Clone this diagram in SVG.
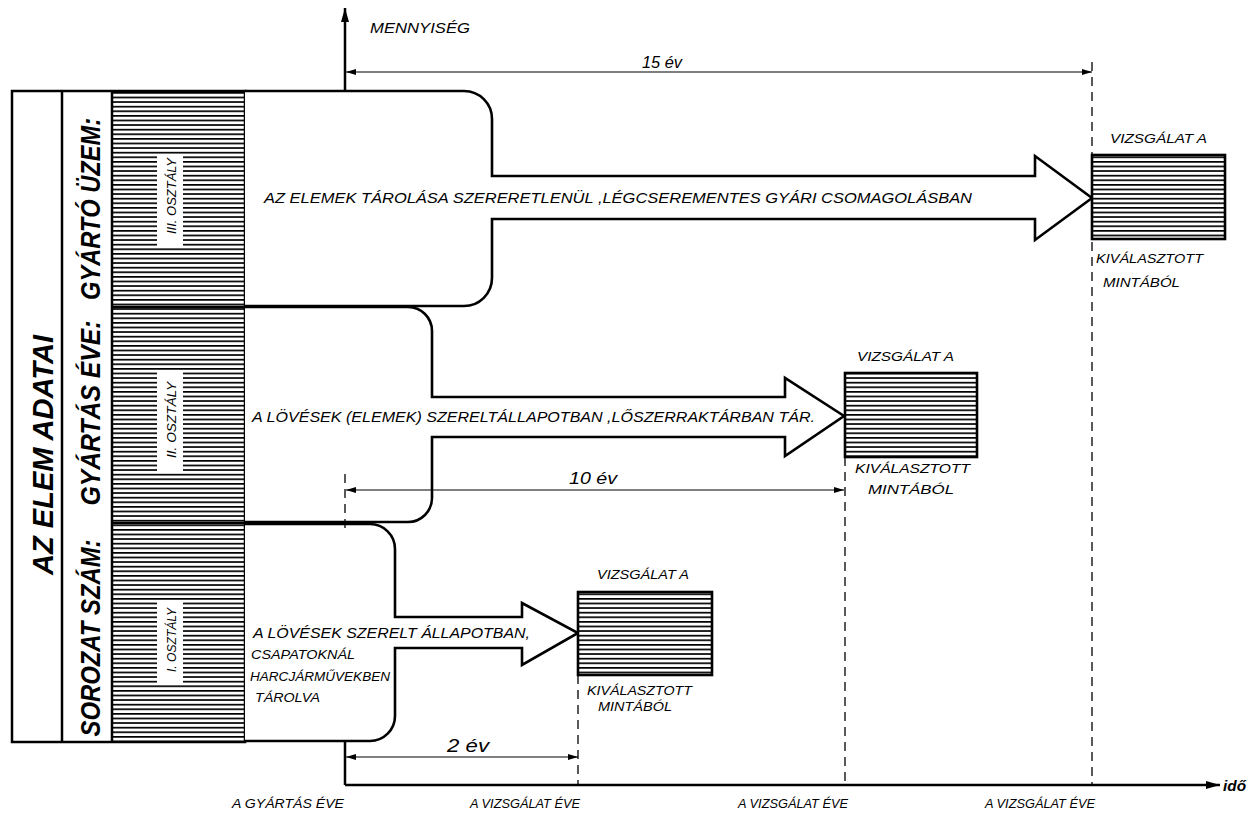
<svg xmlns="http://www.w3.org/2000/svg" width="1248" height="814" viewBox="0 0 1248 814">
<style>
.t{font-family:"Liberation Sans",Arial,sans-serif;font-style:italic;fill:#000}
.b{font-weight:bold}
.ln{fill:none;stroke:#000;stroke-width:2.5}
.lobe{fill:#fff;stroke:#000;stroke-width:2.6;stroke-linejoin:miter}
.dim{stroke:#000;stroke-width:1.1;fill:none}
.dash{stroke:#000;stroke-width:1.3;stroke-dasharray:9 6;fill:none}
.box{fill:url(#h);stroke:#000;stroke-width:2.6}
.wb{fill:#fff;stroke:none}
</style>
<defs>
<pattern id="h" patternUnits="userSpaceOnUse" width="20" height="4.6">
<rect width="20" height="4.6" fill="#fff"/>
<rect y="0" width="20" height="1.7" fill="#000"/>
</pattern>
<marker id="ar" viewBox="0 0 10 6" refX="10" refY="3" markerWidth="10" markerHeight="6" markerUnits="userSpaceOnUse" orient="auto-start-reverse"><path d="M0,0 L10,3 L0,6 Z"/></marker>
<marker id="ax" viewBox="0 0 14 8" refX="14" refY="4" markerWidth="14" markerHeight="8" markerUnits="userSpaceOnUse" orient="auto"><path d="M0,0 L14,4 L0,8 Z"/></marker>
</defs>

<g id="left-panel">
<rect x="112" y="91" width="133" height="651" fill="url(#h)"/>
<rect class="wb" x="157" y="155" width="26" height="92"/>
<rect class="wb" x="157" y="372" width="26" height="100"/>
<rect class="wb" x="157" y="600" width="26" height="84"/>
<rect x="12" y="91" width="233" height="651" class="ln"/>
<line class="ln" x1="62" y1="91" x2="62" y2="742"/>
<line class="ln" x1="112" y1="91" x2="112" y2="742"/>
<line class="ln" x1="112" y1="307" x2="245" y2="307"/>
<line class="ln" x1="112" y1="523" x2="245" y2="523"/>
<text class="t b" transform="translate(53,455) rotate(-90)" font-size="30" text-anchor="middle" textLength="240" lengthAdjust="spacingAndGlyphs">AZ ELEM ADATAI</text>
<text class="t b" transform="translate(100,209) rotate(-90)" font-size="27" text-anchor="middle" textLength="182" lengthAdjust="spacingAndGlyphs">GYÁRTÓ ÜZEM:</text>
<text class="t b" transform="translate(100,413) rotate(-90)" font-size="27" text-anchor="middle" textLength="185" lengthAdjust="spacingAndGlyphs">GYÁRTÁS ÉVE:</text>
<text class="t b" transform="translate(100,638) rotate(-90)" font-size="27" text-anchor="middle" textLength="197" lengthAdjust="spacingAndGlyphs">SOROZAT SZÁM:</text>
<text class="t" transform="translate(176,196) rotate(-90)" font-size="13" text-anchor="middle" textLength="76" lengthAdjust="spacingAndGlyphs">III. OSZTÁLY</text>
<text class="t" transform="translate(176,420) rotate(-90)" font-size="13" text-anchor="middle" textLength="76" lengthAdjust="spacingAndGlyphs">II. OSZTÁLY</text>
<text class="t" transform="translate(176,640) rotate(-90)" font-size="13" text-anchor="middle" textLength="64" lengthAdjust="spacingAndGlyphs">I. OSZTÁLY</text>
</g>

<g id="lobe-top">
<path class="lobe" d="M245,91 H464 A28,28 0 0 1 492,119 V176 H1035 V156 L1092,198 L1035,240 V219 H492 V278 A28,28 0 0 1 464,306 H245"/>
<text class="t" x="264" y="203" font-size="15" textLength="708" lengthAdjust="spacingAndGlyphs">AZ ELEMEK TÁROLÁSA SZERERETLENÜL ,LÉGCSEREMENTES GYÁRI CSOMAGOLÁSBAN</text>
</g>

<g id="lobe-middle">
<path class="lobe" d="M245,307 H408 A24,24 0 0 1 432,331 V397 H785 V378 L844,416 L785,456 V437 H432 V498 A24,24 0 0 1 408,522 H245"/>
<text class="t" x="252" y="422" font-size="14" textLength="563" lengthAdjust="spacingAndGlyphs">A LÖVÉSEK (ELEMEK) SZERELTÁLLAPOTBAN ,LŐSZERRAKTÁRBAN TÁR.</text>
</g>

<g id="lobe-bottom">
<path class="lobe" d="M245,524 H370 A25,25 0 0 1 395,549 V617 H522 V603 L578,633 L522,665 V648 H395 V716 A25,25 0 0 1 370,741 H245"/>
<text class="t" x="253" y="638" font-size="14" textLength="277" lengthAdjust="spacingAndGlyphs">A LÖVÉSEK SZERELT ÁLLAPOTBAN,</text>
<text class="t" x="251" y="659" font-size="13" textLength="104" lengthAdjust="spacingAndGlyphs">CSAPATOKNÁL</text>
<text class="t" x="250" y="681" font-size="13" textLength="140" lengthAdjust="spacingAndGlyphs">HARCJÁRMŰVEKBEN</text>
<text class="t" x="255" y="702" font-size="13" textLength="65" lengthAdjust="spacingAndGlyphs">TÁROLVA</text>
</g>

<g id="test-15">
<rect class="box" x="1092" y="155" width="133" height="84"/>
<text class="t" x="1110" y="143" font-size="13" textLength="97" lengthAdjust="spacingAndGlyphs">VIZSGÁLAT A</text>
<text class="t" x="1096" y="263" font-size="13" textLength="107" lengthAdjust="spacingAndGlyphs">KIVÁLASZTOTT</text>
<text class="t" x="1103" y="287" font-size="13" textLength="77" lengthAdjust="spacingAndGlyphs">MINTÁBÓL</text>
</g>

<g id="test-10">
<rect class="box" x="845" y="373" width="132" height="84"/>
<text class="t" x="857" y="361" font-size="13" textLength="97" lengthAdjust="spacingAndGlyphs">VIZSGÁLAT A</text>
<text class="t" x="855" y="473" font-size="13" textLength="115" lengthAdjust="spacingAndGlyphs">KIVÁLASZTOTT</text>
<text class="t" x="868" y="494" font-size="13" textLength="86" lengthAdjust="spacingAndGlyphs">MINTÁBÓL</text>
</g>

<g id="test-2">
<rect class="box" x="578" y="592" width="134" height="83"/>
<text class="t" x="597" y="579" font-size="13" textLength="92" lengthAdjust="spacingAndGlyphs">VIZSGÁLAT A</text>
<text class="t" x="587" y="695" font-size="13" textLength="105" lengthAdjust="spacingAndGlyphs">KIVÁLASZTOTT</text>
<text class="t" x="598" y="711" font-size="13" textLength="74" lengthAdjust="spacingAndGlyphs">MINTÁBÓL</text>
</g>

<g id="connectors">
<line class="ln" x1="345" y1="91" x2="345" y2="8" marker-end="url(#ax)"/>
<line class="ln" x1="345" y1="742" x2="345" y2="785"/>
<line class="ln" x1="345" y1="785" x2="1220" y2="785" marker-end="url(#ax)"/>
<line class="dim" x1="346" y1="72" x2="1092" y2="72" marker-start="url(#ar)" marker-end="url(#ar)"/>
<line class="dim" x1="346" y1="490" x2="844" y2="490" marker-start="url(#ar)" marker-end="url(#ar)"/>
<line class="dim" x1="346" y1="757" x2="578" y2="757" marker-start="url(#ar)" marker-end="url(#ar)"/>
<line class="dash" x1="345" y1="474" x2="345" y2="532"/>
<line class="dash" x1="578" y1="675" x2="578" y2="785"/>
<line class="dash" x1="845" y1="457" x2="845" y2="785"/>
<line class="dash" x1="1092" y1="62" x2="1092" y2="785"/>
</g>

<g id="labels">
<text class="t" x="370" y="33" font-size="14" textLength="100" lengthAdjust="spacingAndGlyphs">MENNYISÉG</text>
<text class="t" x="642" y="68" font-size="17" textLength="40" lengthAdjust="spacingAndGlyphs">15 év</text>
<text class="t" x="569" y="484" font-size="17" textLength="48" lengthAdjust="spacingAndGlyphs">10 év</text>
<text class="t" x="447" y="752" font-size="19" textLength="42" lengthAdjust="spacingAndGlyphs">2 év</text>
<text class="t" x="232" y="808" font-size="12" textLength="112" lengthAdjust="spacingAndGlyphs">A GYÁRTÁS ÉVE</text>
<text class="t" x="470" y="808" font-size="12" textLength="110" lengthAdjust="spacingAndGlyphs">A VIZSGÁLAT ÉVE</text>
<text class="t" x="738" y="808" font-size="12" textLength="110" lengthAdjust="spacingAndGlyphs">A VIZSGÁLAT ÉVE</text>
<text class="t" x="985" y="808" font-size="12" textLength="110" lengthAdjust="spacingAndGlyphs">A VIZSGÁLAT ÉVE</text>
<text class="t b" x="1223" y="791" font-size="15" textLength="23" lengthAdjust="spacingAndGlyphs">idő</text>
</g>
</svg>
